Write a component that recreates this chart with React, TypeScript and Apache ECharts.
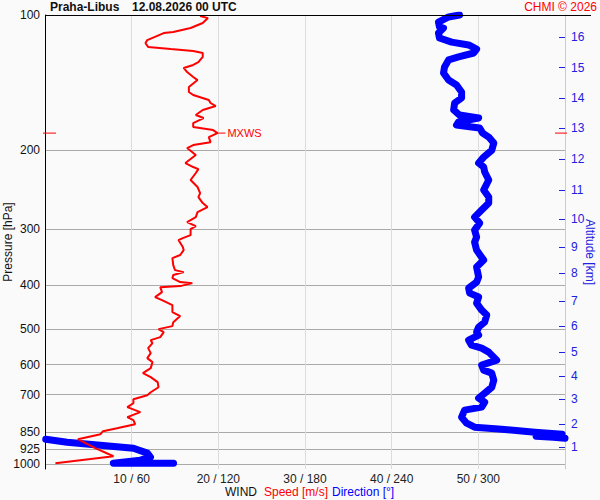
import React, { useEffect, useRef } from "react";
import * as echarts from "echarts";

// ---- axis ticks ----
const pressureTicks = [100, 200, 300, 400, 500, 600, 700, 850, 925, 1000];
const speedTicks = [10, 20, 30, 40, 50];
const directionTicks = [60, 120, 180, 240, 300];
const altitudeKm = [1, 2, 3, 4, 5, 6, 7, 8, 9, 10, 11, 12, 13, 14, 15, 16];
const altitudePressure = [916, 815, 717, 637, 563, 493, 434, 375, 329, 285, 245, 209, 178.5, 153, 131, 112];

// ---- wind speed profile [hPa], [m/s] ----
const speedPressure = [
  100.5, 101.6, 104.2, 106.9, 109.1, 109.7, 113.7, 115.5, 117.8, 119.1, 120.3, 121.5, 124.0, 127.3, 129.2,
  131.2, 134.0, 137.4, 139.6, 144.6, 148.4, 150.7, 154.6, 157.0, 159.5, 162.7, 167.0, 169.6, 174.0, 177.6,
  180.4, 183.2, 187.0, 191.9, 194.8, 197.8, 205.0, 213.6, 218.0, 220.3, 224.8, 233.0, 241.5, 249.1, 254.3,
  262.2, 267.7, 274.6, 281.8, 289.1, 295.1, 299.7, 309.1, 313.8, 317.0, 328.6, 333.7, 342.3, 347.7, 360.4,
  369.8, 373.6, 379.3, 385.2, 393.2, 395.3, 401.4, 403.5, 414.0, 424.6, 431.3, 442.4, 458.6, 468.1, 482.8,
  492.8, 500.4, 508.2, 521.4, 529.5, 537.7, 551.6, 566.0, 580.7, 592.7, 611.2, 627.1, 640.1, 656.8, 674.0,
  691.6, 702.3, 709.5, 716.8, 731.6, 746.5, 758.1, 765.9, 785.9, 798.0, 814.5, 831.4, 844.3, 857.6, 879.9,
  921.3, 960.0, 994.8,
];
const speedValues = [
  17.9, 18.8, 18.2, 16.8, 14.8, 13.7, 11.8, 11.6, 11.9, 14.5, 17.1, 18.2, 18.2, 17.7, 17.1,
  16.0, 16.4, 17.1, 17.6, 16.6, 16.6, 17.1, 18.9, 19.1, 19.7, 18.2, 17.4, 18.3, 17.1, 17.1,
  19.4, 19.9, 18.9, 19.1, 17.1, 16.4, 17.4, 16.2, 17.1, 17.7, 17.4, 16.8, 17.6, 17.9, 17.7,
  18.2, 18.75, 17.6, 17.4, 16.4, 17.4, 16.8, 16.8, 15.9, 15.4, 15.9, 16.0, 15.6, 14.7, 14.8,
  15.0, 16.0, 14.8, 14.7, 15.6, 17.0, 15.6, 13.3, 13.5, 12.7, 13.5, 14.7, 14.7, 15.6, 14.8,
  14.7, 13.1, 13.7, 13.3, 12.2, 12.4, 11.9, 12.2, 11.8, 12.4, 12.2, 11.3, 12.2, 13.0, 13.1,
  12.2, 11.8, 11.0, 10.2, 10.2, 9.5, 10.4, 11.0, 9.5, 10.2, 10.4, 8.3, 6.7, 6.4, 3.8,
  5.8, 7.9, 1.2,
];

// ---- wind direction profile (above the 360/0 wrap) [hPa], [deg] ----
const dirPressureUpper = [
  100.0, 101.0, 103.7, 106.3, 106.9, 109.7, 112.5, 114.9, 116.6, 119.1, 121.5, 124.0, 125.9, 130.5, 134.6,
  139.6, 143.2, 148.4, 153.0, 157.0, 162.7, 167.0, 169.6, 173.0, 175.8, 177.6, 178.5, 183.2, 187.0, 192.8,
  200.0, 207.2, 213.6, 218.0, 223.6, 233.0, 245.3, 254.3, 262.2, 271.8, 281.8, 290.6, 301.2, 312.2, 320.3,
  333.7, 351.3, 364.1, 383.2, 393.2, 405.5, 416.1, 424.6, 437.9, 453.9, 465.7, 482.8, 495.3, 508.2, 515.9,
  529.5, 543.3, 551.6, 563.1, 586.7, 601.9, 617.5, 627.1, 650.1, 674.0, 695.0, 712.8, 727.7, 746.5, 758.1,
  785.9, 810.3, 827.2, 835.7, 848.6, 857.6, 866.2, 870.7, 875.2,
];
const dirValuesUpper = [
  287.0, 279.4, 272.4, 273.1, 275.9, 272.4, 273.1, 281.5, 293.3, 298.8, 296.8, 286.3, 279.4, 276.6, 275.9,
  279.4, 284.9, 288.4, 288.4, 283.6, 282.9, 287.0, 300.2, 286.3, 284.9, 295.3, 300.9, 303.0, 307.2, 310.7,
  309.3, 303.7, 300.2, 303.7, 304.4, 307.2, 303.7, 307.2, 307.2, 302.3, 297.4, 300.9, 297.4, 298.8, 297.4,
  298.8, 303.7, 298.8, 300.2, 298.8, 293.3, 294.0, 300.2, 298.8, 302.3, 305.8, 304.4, 300.2, 298.8, 300.2,
  293.3, 295.3, 302.3, 307.2, 312.7, 302.3, 303.7, 309.3, 310.7, 309.3, 304.4, 300.2, 304.4, 302.3, 290.5,
  288.4, 291.9, 297.4, 316.2, 339.2, 358.0, 340.0, 352.0, 360.0,
];
// ---- wind direction profile (below the wrap) ----
const dirPressureLower = [879.9, 893.3, 907.2, 921.3, 945.0, 964.5, 979.5, 994.8, 995.5];
const dirValuesLower = [0.5, 15.3, 38.2, 61.2, 70.9, 73.0, 66.0, 47.3, 89.0];

// ---- maximum wind ----
const mxwsPressure = 183.2;
const mxwsSpeed = 19.9;

const FONT = "Liberation Sans, Arial, sans-serif";
const RED = "#ff0000";
const BLUE = "#0000ff";
const ALT_BLUE = "#2020e0";

export default function App() {
  const ref = useRef<HTMLDivElement>(null);

  useEffect(() => {
    document.body.style.margin = "0";
    document.body.style.background = "#fafafa";
    const chart = echarts.init(ref.current!, null, { renderer: "svg" });

    const speedData = speedPressure.map((p, i) => [speedValues[i], p]);
    const dirUpper = dirPressureUpper.map((p, i) => [dirValuesUpper[i], p]);
    const dirLower = dirPressureLower.map((p, i) => [dirValuesLower[i], p]);

    const option: any = {
      animation: false,
      backgroundColor: "#fafafa",
      grid: { left: 45, right: 35, top: 15, bottom: 31, containLabel: false, outerBoundsMode: "none" },
      xAxis: [
        {
          type: "value",
          min: 0,
          max: 60,
          interval: 10,
          axisLine: { show: false, onZero: false },
          axisTick: { show: false },
          splitLine: { show: true, lineStyle: { color: "#dcdcdc", width: 1 } },
          axisLabel: {
            margin: 4,
            color: "#222",
            fontSize: 12,
            fontFamily: FONT,
            formatter: (v: number) => {
              const i = speedTicks.indexOf(v);
              return i < 0 ? "" : `${speedTicks[i]} / ${directionTicks[i]}`;
            },
          },
        },
        { type: "value", min: 0, max: 360, show: false, axisLine: { onZero: false } },
      ],
      yAxis: [
        {
          type: "log",
          logBase: 10,
          min: 100,
          max: 1025,
          inverse: true,
          position: "left",
          axisLine: { show: true, onZero: false, lineStyle: { color: "#000", width: 1 } },
          axisTick: { show: false, customValues: pressureTicks },
          axisLabel: {
            customValues: pressureTicks,
            color: "#111",
            fontSize: 12,
            fontFamily: FONT,
            margin: 5,
            formatter: (v: number) => String(Math.round(v)),
          },
          splitLine: { show: true, lineStyle: { color: "#aaaaaa", width: 1 } },
        },
        {
          type: "log",
          logBase: 10,
          min: 100,
          max: 1025,
          inverse: true,
          position: "right",
          axisLine: { show: true, onZero: false, lineStyle: { color: "#cccccc", width: 1 } },
          axisTick: {
            show: true,
            inside: true,
            length: 6,
            customValues: altitudePressure,
            lineStyle: { color: ALT_BLUE, width: 1 },
          },
          axisLabel: {
            customValues: altitudePressure,
            color: ALT_BLUE,
            fontSize: 12,
            fontFamily: FONT,
            margin: 6,
            formatter: (v: number) => {
              let best = 0;
              altitudePressure.forEach((p, i) => {
                if (Math.abs(p - v) < Math.abs(altitudePressure[best] - v)) best = i;
              });
              return String(altitudeKm[best]);
            },
          },
          splitLine: { show: false },
        },
      ],
      series: [
        {
          type: "line",
          name: "Direction upper",
          xAxisIndex: 1,
          yAxisIndex: 0,
          data: dirUpper,
          showSymbol: false,
          lineStyle: { color: BLUE, width: 7, cap: "round", join: "round" },
          silent: true,
        },
        {
          type: "line",
          name: "Direction lower",
          xAxisIndex: 1,
          yAxisIndex: 0,
          data: dirLower,
          showSymbol: false,
          lineStyle: { color: BLUE, width: 7, cap: "round", join: "round" },
          silent: true,
        },
        {
          type: "line",
          name: "Speed",
          xAxisIndex: 0,
          yAxisIndex: 0,
          data: speedData,
          showSymbol: false,
          lineStyle: { color: RED, width: 2 },
          silent: true,
          z: 5,
        },
        {
          type: "custom",
          name: "MXWS",
          xAxisIndex: 0,
          yAxisIndex: 0,
          data: [[mxwsSpeed, mxwsPressure]],
          silent: true,
          z: 6,
          renderItem: (params: any, api: any) => {
            const pt = api.coord([api.value(0), api.value(1)]);
            const cs = params.coordSys;
            return {
              type: "group",
              children: [
                { type: "line", shape: { x1: pt[0], y1: pt[1], x2: pt[0] + 8, y2: pt[1] }, style: { stroke: RED, lineWidth: 1 } },
                {
                  type: "text",
                  style: { text: "MXWS", x: pt[0] + 10, y: pt[1], verticalAlign: "middle", fill: RED, font: `11px ${FONT}` },
                },
                { type: "line", shape: { x1: cs.x - 2, y1: pt[1], x2: cs.x + 11, y2: pt[1] }, style: { stroke: RED, lineWidth: 1 } },
                {
                  type: "line",
                  shape: { x1: cs.x + cs.width - 10, y1: pt[1], x2: cs.x + cs.width + 2, y2: pt[1] },
                  style: { stroke: RED, lineWidth: 1 },
                },
              ],
            };
          },
        },
      ],
      graphic: [
        { type: "line", shape: { x1: 45, y1: 15.5, x2: 591, y2: 15.5 }, style: { stroke: "#000", lineWidth: 1 }, z: 10 },
        { type: "text", x: 50, y: 7, style: { text: "Praha-Libus", font: `bold 12px ${FONT}`, fill: "#111", verticalAlign: "middle" } },
        { type: "text", x: 132, y: 7, style: { text: "12.08.2026 00 UTC", font: `bold 12px ${FONT}`, fill: "#111", verticalAlign: "middle" } },
        { type: "text", x: 597, y: 7, style: { text: "CHMI © 2026", font: `12px ${FONT}`, fill: RED, align: "right", verticalAlign: "middle" } },
        { type: "text", x: 225, y: 492, style: { text: "WIND", font: `12px ${FONT}`, fill: "#111", verticalAlign: "middle" } },
        { type: "text", x: 264, y: 492, style: { text: "Speed [m/s]", font: `12px ${FONT}`, fill: RED, verticalAlign: "middle" } },
        { type: "text", x: 332, y: 492, style: { text: "Direction [°]", font: `12px ${FONT}`, fill: BLUE, verticalAlign: "middle" } },
        {
          type: "text",
          x: 8,
          y: 242,
          rotation: Math.PI / 2,
          style: { text: "Pressure [hPa]", font: `12px ${FONT}`, fill: "#111", align: "center", verticalAlign: "middle" },
        },
        {
          type: "text",
          x: 590,
          y: 252,
          rotation: -Math.PI / 2,
          style: { text: "Altitude [km]", font: `12px ${FONT}`, fill: ALT_BLUE, align: "center", verticalAlign: "middle" },
        },
      ],
    };

    chart.setOption(option);
    return () => chart.dispose();
  }, []);

  return <div ref={ref} style={{ width: 600, height: 500 }} />;
}
